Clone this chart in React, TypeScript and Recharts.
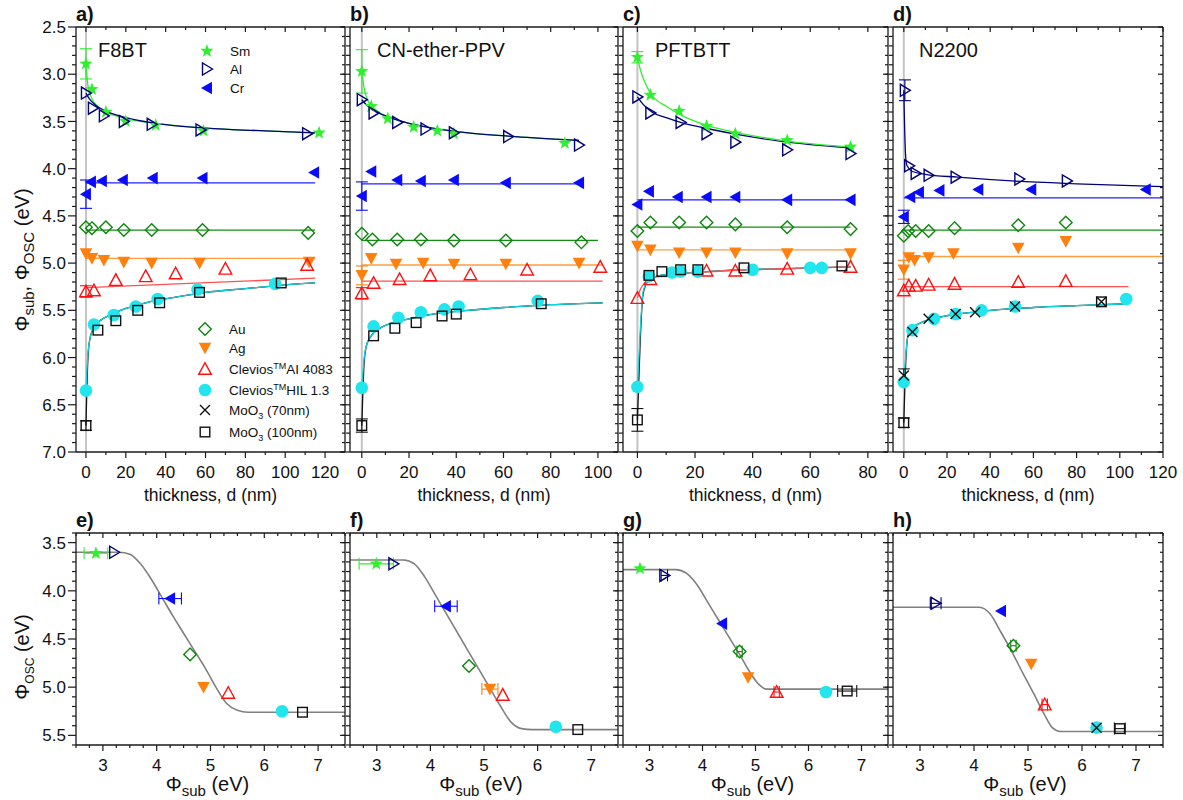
import {
  ComposedChart,
  Line,
  Scatter,
  XAxis,
  YAxis,
  ErrorBar,
  ReferenceLine,
} from "recharts";

const FONT = '"Liberation Sans", Arial, Helvetica, sans-serif';

type Pt = { x: number; y: number; e?: number };
type Kind = "sm" | "al" | "cr" | "au" | "ag" | "ai" | "hil" | "x70" | "sq";

// ---------- panel a) F8BT ----------
const aSm: Pt[] = [
  { x: 0, y: 2.89, e: 0.16 }, { x: 3, y: 3.16 }, { x: 10, y: 3.4 }, { x: 20, y: 3.5 },
  { x: 35, y: 3.54 }, { x: 59, y: 3.6 }, { x: 117, y: 3.62 },
];
const aAl: Pt[] = [
  { x: 0, y: 3.2 }, { x: 3.5, y: 3.36 }, { x: 9, y: 3.44 }, { x: 19, y: 3.5 },
  { x: 33, y: 3.53 }, { x: 57.5, y: 3.59 }, { x: 111, y: 3.63 },
];
const aCr: Pt[] = [
  { x: 0, y: 4.27, e: 0.15 }, { x: 2.5, y: 4.14 }, { x: 8, y: 4.13 }, { x: 18.5, y: 4.12 },
  { x: 33.5, y: 4.1 }, { x: 58.5, y: 4.1 }, { x: 114.5, y: 4.04 },
];
const aAu: Pt[] = [
  { x: 0, y: 4.62 }, { x: 3, y: 4.63 }, { x: 10, y: 4.62 }, { x: 19, y: 4.65 },
  { x: 33, y: 4.65 }, { x: 58.5, y: 4.65 }, { x: 111.5, y: 4.68 },
];
const aAg: Pt[] = [
  { x: 0, y: 4.9 }, { x: 3, y: 4.95 }, { x: 9, y: 4.97 }, { x: 19, y: 4.99 },
  { x: 33, y: 5.0 }, { x: 57, y: 5.0 }, { x: 112, y: 4.99 },
];
const aAi: Pt[] = [
  { x: 0, y: 5.3, e: 0.06 }, { x: 4, y: 5.29 }, { x: 15, y: 5.18 }, { x: 30, y: 5.14 },
  { x: 45, y: 5.11 }, { x: 70, y: 5.06 }, { x: 111, y: 5.02 },
];
const aHil: Pt[] = [
  { x: 0, y: 6.35 }, { x: 4, y: 5.65 }, { x: 14, y: 5.55 }, { x: 25, y: 5.46 },
  { x: 36, y: 5.38 }, { x: 56, y: 5.28 }, { x: 95, y: 5.22 },
];
const aSq: Pt[] = [
  { x: 0, y: 6.72, e: 0.05 }, { x: 6, y: 5.71 }, { x: 15, y: 5.61 }, { x: 26, y: 5.5 },
  { x: 37, y: 5.42 }, { x: 57, y: 5.31 }, { x: 98, y: 5.21 },
];
const aSmFit: Pt[] = [
  { x: 0, y: 2.89 }, { x: 1, y: 3.12 }, { x: 3, y: 3.26 }, { x: 6, y: 3.34 }, { x: 10, y: 3.4 },
  { x: 20, y: 3.47 }, { x: 35, y: 3.52 }, { x: 60, y: 3.57 }, { x: 90, y: 3.6 }, { x: 115, y: 3.62 },
];
const aAlFit: Pt[] = [
  { x: 0, y: 3.2 }, { x: 2, y: 3.27 }, { x: 5, y: 3.33 }, { x: 10, y: 3.39 }, { x: 20, y: 3.46 },
  { x: 35, y: 3.52 }, { x: 60, y: 3.57 }, { x: 90, y: 3.6 }, { x: 115, y: 3.62 },
];
const aCrFit: Pt[] = [{ x: 0, y: 4.15 }, { x: 115, y: 4.15 }];
const aAuFit: Pt[] = [{ x: 0, y: 4.65 }, { x: 115, y: 4.65 }];
const aAgFit: Pt[] = [{ x: 0, y: 4.95 }, { x: 115, y: 4.95 }];
const aAiFit: Pt[] = [{ x: 0, y: 5.26 }, { x: 115, y: 5.16 }];
const aSqFit: Pt[] = [
  { x: 0, y: 6.72 }, { x: 1, y: 6.0 }, { x: 2, y: 5.8 }, { x: 4, y: 5.68 }, { x: 7, y: 5.61 },
  { x: 12, y: 5.55 }, { x: 20, y: 5.48 }, { x: 30, y: 5.42 }, { x: 45, y: 5.36 }, { x: 60, y: 5.31 },
  { x: 80, y: 5.27 }, { x: 100, y: 5.23 }, { x: 115, y: 5.21 },
];
const aHilFit: Pt[] = [
  { x: 0, y: 6.35 }, { x: 1, y: 5.95 }, { x: 2, y: 5.8 }, { x: 4, y: 5.68 }, { x: 7, y: 5.61 },
  { x: 12, y: 5.55 }, { x: 20, y: 5.48 }, { x: 30, y: 5.42 }, { x: 45, y: 5.36 }, { x: 60, y: 5.31 },
  { x: 80, y: 5.27 }, { x: 100, y: 5.23 }, { x: 115, y: 5.21 },
];

// ---------- panel b) CN-ether-PPV ----------
const bSm: Pt[] = [
  { x: 0, y: 2.97, e: 0.23 }, { x: 4, y: 3.34 }, { x: 11, y: 3.47 }, { x: 22, y: 3.56 },
  { x: 32, y: 3.6 }, { x: 39, y: 3.63 }, { x: 86, y: 3.73 },
];
const bAl: Pt[] = [
  { x: 0, y: 3.27 }, { x: 5, y: 3.41 }, { x: 15, y: 3.51 }, { x: 27, y: 3.58 },
  { x: 39, y: 3.62 }, { x: 62, y: 3.66 }, { x: 92, y: 3.75 },
];
const bCr: Pt[] = [
  { x: 0, y: 4.29, e: 0.15 }, { x: 4, y: 4.03 }, { x: 15, y: 4.12 }, { x: 25, y: 4.13 },
  { x: 39, y: 4.12 }, { x: 61, y: 4.15 }, { x: 92, y: 4.15 },
];
const bAu: Pt[] = [
  { x: 0, y: 4.69 }, { x: 4.5, y: 4.75 }, { x: 15, y: 4.75 }, { x: 25, y: 4.75 },
  { x: 39, y: 4.76 }, { x: 61, y: 4.76 }, { x: 93, y: 4.78 },
];
const bAg: Pt[] = [
  { x: 0, y: 5.13, e: 0.1 }, { x: 4, y: 4.95 }, { x: 14.5, y: 5.01 }, { x: 26, y: 5.0 },
  { x: 39, y: 5.01 }, { x: 61, y: 5.01 }, { x: 92, y: 5.0 },
];
const bAi: Pt[] = [
  { x: 0, y: 5.32, e: 0.06 }, { x: 5, y: 5.21 }, { x: 16, y: 5.17 }, { x: 29, y: 5.13 },
  { x: 46, y: 5.12 }, { x: 70, y: 5.07 }, { x: 101, y: 5.04 },
];
const bHil: Pt[] = [
  { x: 0, y: 6.32 }, { x: 5, y: 5.67 }, { x: 15.5, y: 5.58 }, { x: 25, y: 5.52 },
  { x: 35, y: 5.49 }, { x: 41, y: 5.46 }, { x: 74.5, y: 5.4 },
];
const bSq: Pt[] = [
  { x: 0, y: 6.72, e: 0.07 }, { x: 5, y: 5.77 }, { x: 14, y: 5.69 }, { x: 23, y: 5.63 },
  { x: 34, y: 5.56 }, { x: 40, y: 5.54 }, { x: 76, y: 5.43 },
];
const bSmFit: Pt[] = [
  { x: 0, y: 2.97 }, { x: 1, y: 3.15 }, { x: 3, y: 3.3 }, { x: 6, y: 3.38 }, { x: 10, y: 3.44 },
  { x: 20, y: 3.52 }, { x: 30, y: 3.57 }, { x: 45, y: 3.62 }, { x: 65, y: 3.66 }, { x: 92, y: 3.7 },
];
const bAlFit: Pt[] = [
  { x: 0, y: 3.27 }, { x: 3, y: 3.35 }, { x: 6, y: 3.4 }, { x: 10, y: 3.44 }, { x: 20, y: 3.52 },
  { x: 30, y: 3.57 }, { x: 45, y: 3.62 }, { x: 65, y: 3.66 }, { x: 92, y: 3.7 },
];
const bCrFit: Pt[] = [{ x: 0, y: 4.16 }, { x: 92, y: 4.16 }];
const bAuFit: Pt[] = [{ x: 0, y: 4.76 }, { x: 100, y: 4.76 }];
const bAgFit: Pt[] = [{ x: 0, y: 5.02 }, { x: 102, y: 5.02 }];
const bAiFit: Pt[] = [{ x: 0, y: 5.19 }, { x: 102, y: 5.19 }];
const bSqFit: Pt[] = [
  { x: 0, y: 6.72 }, { x: 1, y: 6.05 }, { x: 2, y: 5.87 }, { x: 4, y: 5.77 }, { x: 7, y: 5.7 },
  { x: 12, y: 5.64 }, { x: 20, y: 5.59 }, { x: 30, y: 5.54 }, { x: 45, y: 5.5 }, { x: 60, y: 5.47 },
  { x: 80, y: 5.44 }, { x: 102, y: 5.42 },
];
const bHilFit: Pt[] = [
  { x: 0, y: 6.32 }, { x: 1, y: 6.0 }, { x: 2, y: 5.87 }, { x: 4, y: 5.77 }, { x: 7, y: 5.7 },
  { x: 12, y: 5.64 }, { x: 20, y: 5.59 }, { x: 30, y: 5.54 }, { x: 45, y: 5.5 }, { x: 60, y: 5.47 },
  { x: 80, y: 5.44 }, { x: 102, y: 5.42 },
];

// ---------- panel c) PFTBTT ----------
const cSm: Pt[] = [
  { x: 0, y: 2.82, e: 0.06 }, { x: 4.5, y: 3.22 }, { x: 14.5, y: 3.39 }, { x: 24, y: 3.55 },
  { x: 34, y: 3.63 }, { x: 52, y: 3.7 }, { x: 74, y: 3.77 },
];
const cAl: Pt[] = [
  { x: 0, y: 3.24 }, { x: 4.5, y: 3.41 }, { x: 15, y: 3.51 }, { x: 24, y: 3.63 },
  { x: 34, y: 3.72 }, { x: 52, y: 3.8 }, { x: 74, y: 3.84 },
];
const cCr: Pt[] = [
  { x: 0, y: 4.38 }, { x: 4, y: 4.24 }, { x: 14, y: 4.3 }, { x: 24, y: 4.3 },
  { x: 34, y: 4.3 }, { x: 52, y: 4.33 }, { x: 74, y: 4.33 },
];
const cAu: Pt[] = [
  { x: 0, y: 4.66 }, { x: 4.5, y: 4.57 }, { x: 14.5, y: 4.57 }, { x: 24, y: 4.57 },
  { x: 34, y: 4.59 }, { x: 52, y: 4.62 }, { x: 74, y: 4.64 },
];
const cAg: Pt[] = [
  { x: 0, y: 4.82 }, { x: 4.5, y: 4.86 }, { x: 14.5, y: 4.89 }, { x: 24, y: 4.89 },
  { x: 34, y: 4.89 }, { x: 52, y: 4.9 }, { x: 74, y: 4.9 },
];
const cAi: Pt[] = [
  { x: 0, y: 5.37 }, { x: 4.5, y: 5.17 }, { x: 24, y: 5.08 }, { x: 34, y: 5.08 },
  { x: 52, y: 5.06 }, { x: 74, y: 5.04 },
];
const cHil: Pt[] = [
  { x: 0, y: 6.31 }, { x: 4, y: 5.14 }, { x: 12, y: 5.1 }, { x: 15, y: 5.09 },
  { x: 21, y: 5.09 }, { x: 40, y: 5.07 }, { x: 60, y: 5.05 }, { x: 64, y: 5.05 },
];
const cSq: Pt[] = [
  { x: 0, y: 6.66, e: 0.12 }, { x: 4, y: 5.13 }, { x: 8.5, y: 5.09 }, { x: 15, y: 5.07 },
  { x: 21, y: 5.07 }, { x: 37, y: 5.05 }, { x: 71, y: 5.03 },
];
const cSmFit: Pt[] = [
  { x: 0, y: 2.82 }, { x: 1, y: 2.95 }, { x: 2.5, y: 3.08 }, { x: 5, y: 3.22 }, { x: 10, y: 3.34 },
  { x: 15, y: 3.43 }, { x: 25, y: 3.55 }, { x: 35, y: 3.62 }, { x: 50, y: 3.7 }, { x: 74, y: 3.77 },
];
const cAlFit: Pt[] = [
  { x: 0, y: 3.24 }, { x: 2, y: 3.32 }, { x: 5, y: 3.4 }, { x: 10, y: 3.46 }, { x: 15, y: 3.51 },
  { x: 25, y: 3.58 }, { x: 35, y: 3.64 }, { x: 50, y: 3.71 }, { x: 74, y: 3.78 },
];
const cCrFit: Pt[] = [{ x: 0, y: 4.33 }, { x: 74, y: 4.33 }];
const cAuFit: Pt[] = [{ x: 0, y: 4.62 }, { x: 74, y: 4.62 }];
const cAgFit: Pt[] = [{ x: 0, y: 4.86 }, { x: 74, y: 4.86 }];
const cAiFit: Pt[] = [
  { x: 0, y: 5.37 }, { x: 1, y: 5.28 }, { x: 2.5, y: 5.21 }, { x: 5, y: 5.16 }, { x: 10, y: 5.13 },
  { x: 20, y: 5.1 }, { x: 40, y: 5.07 }, { x: 74, y: 5.04 },
];
const cSqFit: Pt[] = [
  { x: 0, y: 6.66 }, { x: 1, y: 5.8 }, { x: 2, y: 5.32 }, { x: 4, y: 5.18 }, { x: 8, y: 5.13 },
  { x: 15, y: 5.11 }, { x: 30, y: 5.08 }, { x: 50, y: 5.06 }, { x: 74, y: 5.04 },
];
const cHilFit: Pt[] = [
  { x: 0, y: 6.31 }, { x: 1, y: 5.7 }, { x: 2, y: 5.3 }, { x: 4, y: 5.18 }, { x: 8, y: 5.13 },
  { x: 15, y: 5.11 }, { x: 30, y: 5.08 }, { x: 50, y: 5.06 }, { x: 74, y: 5.04 },
];

// ---------- panel d) N2200 ----------
const dAl: Pt[] = [
  { x: 0.5, y: 3.17, e: 0.11 }, { x: 2.5, y: 3.97 }, { x: 5.5, y: 4.05 }, { x: 11.5, y: 4.07 },
  { x: 24, y: 4.09 }, { x: 53.5, y: 4.11 }, { x: 75.5, y: 4.13 },
];
const dCr: Pt[] = [
  { x: 0, y: 4.51, e: 0.07 }, { x: 3, y: 4.3 }, { x: 7, y: 4.25 }, { x: 16.5, y: 4.23 },
  { x: 34.5, y: 4.22 }, { x: 59, y: 4.22 }, { x: 112, y: 4.22 },
];
const dAu: Pt[] = [
  { x: 0, y: 4.71 }, { x: 2, y: 4.66 }, { x: 5.5, y: 4.66 }, { x: 11.5, y: 4.66 },
  { x: 23.5, y: 4.63 }, { x: 53, y: 4.6 }, { x: 75, y: 4.57 },
];
const dAg: Pt[] = [
  { x: 0, y: 5.07, e: 0.1 }, { x: 2.3, y: 4.94 }, { x: 5, y: 4.97 }, { x: 11.5, y: 4.94 },
  { x: 23, y: 4.9 }, { x: 53, y: 4.84 }, { x: 75, y: 4.77 },
];
const dAi: Pt[] = [
  { x: 0, y: 5.29 }, { x: 2.3, y: 5.24 }, { x: 5.5, y: 5.24 }, { x: 11.5, y: 5.23 },
  { x: 23.5, y: 5.22 }, { x: 53, y: 5.2 }, { x: 75, y: 5.19 },
];
const dHil: Pt[] = [
  { x: 0, y: 6.26 }, { x: 4, y: 5.71 }, { x: 14, y: 5.59 }, { x: 24, y: 5.54 },
  { x: 36, y: 5.5 }, { x: 51.5, y: 5.46 }, { x: 103, y: 5.38 },
];
const dX70: Pt[] = [
  { x: 0, y: 6.19, e: 0.07 }, { x: 4, y: 5.73 }, { x: 11.5, y: 5.59 }, { x: 24, y: 5.54 },
  { x: 33, y: 5.52 }, { x: 51.5, y: 5.46 }, { x: 91.5, y: 5.41 },
];
const dSq: Pt[] = [{ x: 0, y: 6.69, e: 0.05 }, { x: 91.5, y: 5.41 }];
const dAlFit: Pt[] = [
  { x: 0, y: 3.17 }, { x: 0.8, y: 3.85 }, { x: 1.5, y: 3.97 }, { x: 4, y: 4.03 }, { x: 10, y: 4.06 },
  { x: 25, y: 4.09 }, { x: 50, y: 4.13 }, { x: 80, y: 4.16 }, { x: 120, y: 4.19 },
];
const dCrFit: Pt[] = [{ x: 0, y: 4.31 }, { x: 120, y: 4.31 }];
const dAuFit: Pt[] = [{ x: 0, y: 4.65 }, { x: 120, y: 4.65 }];
const dAgFit: Pt[] = [{ x: 0, y: 4.93 }, { x: 120, y: 4.93 }];
const dAiFit: Pt[] = [{ x: 0, y: 5.25 }, { x: 104, y: 5.25 }];
const dSqFit: Pt[] = [
  { x: 0, y: 6.69 }, { x: 1, y: 6.0 }, { x: 2, y: 5.76 }, { x: 4, y: 5.69 }, { x: 8, y: 5.63 },
  { x: 15, y: 5.58 }, { x: 25, y: 5.54 }, { x: 40, y: 5.5 }, { x: 60, y: 5.47 }, { x: 80, y: 5.45 },
  { x: 104, y: 5.43 },
];
const dHilFit: Pt[] = [
  { x: 0, y: 6.26 }, { x: 1, y: 5.95 }, { x: 2, y: 5.76 }, { x: 4, y: 5.69 }, { x: 8, y: 5.63 },
  { x: 15, y: 5.58 }, { x: 25, y: 5.54 }, { x: 40, y: 5.5 }, { x: 60, y: 5.47 }, { x: 80, y: 5.45 },
  { x: 104, y: 5.43 },
];

// ---------- bottom row: Phi_osc vs Phi_sub (e = x error) ----------
const eSm: Pt[] = [{ x: 2.87, y: 3.61, e: 0.22 }];
const eAl: Pt[] = [{ x: 3.21, y: 3.6 }];
const eCr: Pt[] = [{ x: 4.25, y: 4.08, e: 0.21 }];
const eAu: Pt[] = [{ x: 4.62, y: 4.66 }];
const eAg: Pt[] = [{ x: 4.87, y: 5.0 }];
const eAi: Pt[] = [{ x: 5.33, y: 5.06 }];
const eHil: Pt[] = [{ x: 6.33, y: 5.25 }];
const eSq: Pt[] = [{ x: 6.71, y: 5.26 }];
const eFit: Pt[] = [
  { x: 2.5, y: 3.6 }, { x: 3.3, y: 3.6 }, { x: 3.5, y: 3.62 }, { x: 3.7, y: 3.72 }, { x: 3.9, y: 3.88 },
  { x: 4.1, y: 4.07 }, { x: 4.3, y: 4.26 }, { x: 4.5, y: 4.44 }, { x: 4.7, y: 4.62 }, { x: 4.9, y: 4.8 },
  { x: 5.1, y: 5.0 }, { x: 5.3, y: 5.17 }, { x: 5.5, y: 5.24 }, { x: 5.7, y: 5.26 }, { x: 7.5, y: 5.26 },
];

const fSm: Pt[] = [{ x: 2.99, y: 3.72, e: 0.32 }];
const fAl: Pt[] = [{ x: 3.31, y: 3.72 }];
const fCr: Pt[] = [{ x: 4.29, y: 4.16, e: 0.21 }];
const fAu: Pt[] = [{ x: 4.72, y: 4.78 }];
const fAg: Pt[] = [{ x: 5.11, y: 5.02, e: 0.15 }];
const fAi: Pt[] = [{ x: 5.35, y: 5.08 }];
const fHil: Pt[] = [{ x: 6.34, y: 5.41 }];
const fSq: Pt[] = [{ x: 6.75, y: 5.44 }];
const fFit: Pt[] = [
  { x: 2.5, y: 3.68 }, { x: 3.5, y: 3.68 }, { x: 3.7, y: 3.72 }, { x: 3.9, y: 3.86 }, { x: 4.1, y: 4.05 },
  { x: 4.3, y: 4.24 }, { x: 4.5, y: 4.43 }, { x: 4.7, y: 4.62 }, { x: 4.9, y: 4.81 }, { x: 5.1, y: 5.0 },
  { x: 5.3, y: 5.19 }, { x: 5.5, y: 5.36 }, { x: 5.7, y: 5.43 }, { x: 5.9, y: 5.44 }, { x: 7.5, y: 5.44 },
];

const gSm: Pt[] = [{ x: 2.82, y: 3.77 }];
const gAl: Pt[] = [{ x: 3.28, y: 3.84, e: 0.06 }];
const gCr: Pt[] = [{ x: 4.37, y: 4.34 }];
const gAu: Pt[] = [{ x: 4.7, y: 4.63, e: 0.05 }];
const gAg: Pt[] = [{ x: 4.86, y: 4.9 }];
const gAi: Pt[] = [{ x: 5.4, y: 5.05, e: 0.05 }];
const gHil: Pt[] = [{ x: 6.33, y: 5.05 }];
const gSq: Pt[] = [{ x: 6.73, y: 5.04, e: 0.18 }];
const gFit: Pt[] = [
  { x: 2.5, y: 3.78 }, { x: 3.5, y: 3.78 }, { x: 3.7, y: 3.82 }, { x: 3.9, y: 3.94 }, { x: 4.1, y: 4.12 },
  { x: 4.3, y: 4.3 }, { x: 4.5, y: 4.48 }, { x: 4.7, y: 4.66 }, { x: 4.9, y: 4.85 }, { x: 5.0, y: 4.93 },
  { x: 5.1, y: 4.99 }, { x: 5.2, y: 5.02 }, { x: 7.5, y: 5.02 },
];

const hAl: Pt[] = [{ x: 3.29, y: 4.13, e: 0.1 }];
const hCr: Pt[] = [{ x: 4.5, y: 4.21 }];
const hAu: Pt[] = [{ x: 4.73, y: 4.57, e: 0.05 }];
const hAg: Pt[] = [{ x: 5.06, y: 4.76 }];
const hAi: Pt[] = [{ x: 5.31, y: 5.18, e: 0.05 }];
const hHil: Pt[] = [{ x: 6.27, y: 5.42 }];
const hX70: Pt[] = [{ x: 6.27, y: 5.42 }];
const hSq: Pt[] = [{ x: 6.7, y: 5.43, e: 0.1 }];
const hFit: Pt[] = [
  { x: 2.5, y: 4.17 }, { x: 4.1, y: 4.17 }, { x: 4.3, y: 4.24 }, { x: 4.5, y: 4.43 }, { x: 4.7, y: 4.63 },
  { x: 4.9, y: 4.85 }, { x: 5.1, y: 5.06 }, { x: 5.3, y: 5.28 }, { x: 5.45, y: 5.42 }, { x: 5.6, y: 5.46 },
  { x: 7.5, y: 5.46 },
];

// ---------- ticks ----------
const steps = (a: number, b: number, s: number) => {
  const out: number[] = [];
  for (let v = a; v <= b + 1e-9; v += s) out.push(Math.round(v * 1000) / 1000);
  return out;
};
const topYMajor = [2.5, 3.0, 3.5, 4.0, 4.5, 5.0, 5.5, 6.0, 6.5, 7.0];
const topYTicks = steps(2.5, 7.0, 0.1);
const xMajor120 = [0, 20, 40, 60, 80, 100, 120];
const xMajor100 = [0, 20, 40, 60, 80, 100];
const xMajor80 = [0, 20, 40, 60, 80];
const botXMajor = [3, 4, 5, 6, 7];
const botXTicks = steps(2.5, 7.5, 0.25);
const botYMajor = [3.5, 4.0, 4.5, 5.0, 5.5];
const botYTicks = steps(3.4, 5.6, 0.1);

// ---------- styles ----------
const COLOR: Record<Kind, string> = {
  sm: "#2ff02f", al: "#00007a", cr: "#0a0aff", au: "#0b870b", ag: "#ff800d",
  ai: "#ff1010", hil: "#22e6ee", x70: "#111111", sq: "#111111",
};
const FIT: Record<Kind, string> = {
  sm: "#2ff02f", al: "#00007a", cr: "#2020ff", au: "#148c14", ag: "#ff9b40",
  ai: "#ff5050", hil: "#10d4dc", x70: "#111111", sq: "#111111",
};

const starPts = (cx: number, cy: number, R: number, r: number) => {
  const p: string[] = [];
  for (let i = 0; i < 10; i++) {
    const a = -Math.PI / 2 + (i * Math.PI) / 5;
    const rr = i % 2 === 0 ? R : r;
    p.push(`${cx + rr * Math.cos(a)},${cy + rr * Math.sin(a)}`);
  }
  return p.join(" ");
};

function Marker({ kind, cx, cy }: { kind: Kind; cx: number; cy: number }) {
  const c = COLOR[kind];
  const sw = 1.4;
  switch (kind) {
    case "sm":
      return <polygon points={starPts(cx, cy, 7, 2.9)} fill={c} />;
    case "al":
      return <polygon points={`${cx + 5.5},${cy} ${cx - 4.5},${cy - 6} ${cx - 4.5},${cy + 6}`} fill="none" stroke={c} strokeWidth={sw} />;
    case "cr":
      return <polygon points={`${cx - 6},${cy} ${cx + 5},${cy - 6.3} ${cx + 5},${cy + 6.3}`} fill={c} />;
    case "au":
      return <polygon points={`${cx},${cy - 6.3} ${cx + 6.3},${cy} ${cx},${cy + 6.3} ${cx - 6.3},${cy}`} fill="none" stroke={c} strokeWidth={sw} />;
    case "ag":
      return <polygon points={`${cx - 6.3},${cy - 5.3} ${cx + 6.3},${cy - 5.3} ${cx},${cy + 6.3}`} fill={c} />;
    case "ai":
      return <polygon points={`${cx - 6.3},${cy + 5.3} ${cx + 6.3},${cy + 5.3} ${cx},${cy - 6.3}`} fill="none" stroke={c} strokeWidth={sw} />;
    case "hil":
      return <circle cx={cx} cy={cy} r={6.3} fill={c} />;
    case "x70":
      return <path d={`M${cx - 5},${cy - 5}L${cx + 5},${cy + 5}M${cx - 5},${cy + 5}L${cx + 5},${cy - 5}`} stroke={c} strokeWidth={sw} fill="none" />;
    default:
      return <rect x={cx - 4.8} y={cy - 4.8} width={9.6} height={9.6} fill="none" stroke={c} strokeWidth={sw} />;
  }
}

type Side = "left" | "right" | "top" | "bottom";
function makeTick(side: Side, majors: number[], show: boolean, digits: number) {
  return (p: any) => {
    const v: number = p.payload.value;
    const major = majors.some((m) => Math.abs(m - v) < 1e-6);
    const L = side === "left" ? (major ? 8 : 4) : side === "bottom" ? (major ? 6 : 3) : major ? 5 : 3;
    const { x, y } = p;
    let line;
    let label = null;
    if (side === "left") {
      line = <line x1={x} y1={y} x2={x - L} y2={y} />;
      if (show && major)
        label = <text x={x - 10} y={y} dy="0.36em" textAnchor="end">{v.toFixed(digits)}</text>;
    } else if (side === "right") {
      line = <line x1={x} y1={y} x2={x - L} y2={y} />;
    } else if (side === "top") {
      line = <line x1={x} y1={y} x2={x} y2={y + L} />;
    } else {
      line = <line x1={x} y1={y} x2={x} y2={y + L} />;
      if (show && major)
        label = <text x={x} y={y + 26} textAnchor="middle">{v.toFixed(digits)}</text>;
    }
    return (
      <g>
        <g stroke="#1a1a1a" strokeWidth={1.2}>{line}</g>
        {label && (
          <g fill="#111" stroke="none" fontSize={17} fontFamily={FONT}>{label}</g>
        )}
      </g>
    );
  };
}

const PAD = { l: 60, r: 18, t: 12, b: 40 };
const AXIS = { stroke: "#1a1a1a", strokeWidth: 1.3 };

type PanelProps = {
  left: number; right: number; top: number; bottom: number;
  xDomain: [number, number]; xTicks: number[]; xMajor: number[];
  yDomain: [number, number]; yTicks: number[]; yMajor: number[];
  yLabels: boolean; errDir: "x" | "y"; zero: boolean;
  series: [Kind, Pt[]][]; fits: [string, Pt[]][]; fitWidth: number;
};

function Panel(p: PanelProps) {
  const w = p.right - p.left + PAD.l + PAD.r;
  const h = p.bottom - p.top + PAD.t + PAD.b;
  return (
    <div style={{ position: "absolute", left: p.left - PAD.l, top: p.top - PAD.t }}>
      <ComposedChart width={w} height={h} margin={{ top: 0, right: 0, bottom: 0, left: 0 }}>
        <XAxis xAxisId={0} type="number" dataKey="x" domain={p.xDomain} ticks={p.xTicks} interval={0}
          allowDataOverflow height={PAD.b} tickLine={false} tickSize={0} tickMargin={0} axisLine={AXIS}
          tick={makeTick("bottom", p.xMajor, true, 0)} />
        <XAxis xAxisId="t" orientation="top" type="number" dataKey="x" domain={p.xDomain} ticks={p.xTicks}
          interval={0} allowDataOverflow height={PAD.t} tickLine={false} tickSize={0} tickMargin={0}
          axisLine={AXIS} tick={makeTick("top", p.xMajor, false, 0)} />
        <YAxis yAxisId={0} type="number" domain={p.yDomain} reversed ticks={p.yTicks} interval={0}
          allowDataOverflow width={PAD.l} tickLine={false} tickSize={0} tickMargin={0} axisLine={AXIS}
          tick={makeTick("left", p.yMajor, p.yLabels, 1)} />
        <YAxis yAxisId="r" orientation="right" type="number" domain={p.yDomain} reversed ticks={p.yTicks}
          interval={0} allowDataOverflow width={PAD.r} tickLine={false} tickSize={0} tickMargin={0}
          axisLine={AXIS} tick={makeTick("right", p.yMajor, false, 1)} />
        {p.zero && <ReferenceLine x={0} stroke="#c4c4c4" strokeWidth={2} />}
        {p.fits.map(([col, d], i) => (
          <Line key={"f" + i} data={d} dataKey="y" type="monotone" stroke={col} strokeWidth={p.fitWidth}
            dot={false} activeDot={false} isAnimationActive={false} />
        ))}
        {p.series.map(([kind, d], i) => (
          <Scatter key={"s" + i} data={d} dataKey="y" isAnimationActive={false}
            shape={(sp: any) => <Marker kind={kind} cx={sp.cx} cy={sp.cy} />}>
            <ErrorBar dataKey="e" direction={p.errDir} width={6} stroke={COLOR[kind]} strokeWidth={1.1} />
          </Scatter>
        ))}
      </ComposedChart>
    </div>
  );
}

const COLS: [number, number][] = [[76, 345], [350, 618], [623, 888], [893, 1163]];
const TOP_Y: [number, number] = [27, 452];
const BOT_Y: [number, number] = [533, 745];

const topPanels = [
  {
    xDomain: [-5, 130] as [number, number], xMajor: xMajor120, xTicks: steps(0, 120, 10),
    series: [["sm", aSm], ["al", aAl], ["cr", aCr], ["au", aAu], ["ag", aAg], ["ai", aAi], ["hil", aHil], ["sq", aSq]] as [Kind, Pt[]][],
    fits: [[FIT.cr, aCrFit], [FIT.au, aAuFit], [FIT.ag, aAgFit], [FIT.ai, aAiFit], [FIT.sm, aSmFit], [FIT.al, aAlFit], [FIT.sq, aSqFit], [FIT.hil, aHilFit]] as [string, Pt[]][],
  },
  {
    xDomain: [-5, 108.5] as [number, number], xMajor: xMajor100, xTicks: steps(0, 100, 10),
    series: [["sm", bSm], ["al", bAl], ["cr", bCr], ["au", bAu], ["ag", bAg], ["ai", bAi], ["hil", bHil], ["sq", bSq]] as [Kind, Pt[]][],
    fits: [[FIT.cr, bCrFit], [FIT.au, bAuFit], [FIT.ag, bAgFit], [FIT.ai, bAiFit], [FIT.sm, bSmFit], [FIT.al, bAlFit], [FIT.sq, bSqFit], [FIT.hil, bHilFit]] as [string, Pt[]][],
  },
  {
    xDomain: [-5, 87] as [number, number], xMajor: xMajor80, xTicks: steps(0, 80, 10),
    series: [["sm", cSm], ["al", cAl], ["cr", cCr], ["au", cAu], ["ag", cAg], ["ai", cAi], ["hil", cHil], ["sq", cSq]] as [Kind, Pt[]][],
    fits: [[FIT.cr, cCrFit], [FIT.au, cAuFit], [FIT.ag, cAgFit], [FIT.al, cAlFit], [FIT.sm, cSmFit], [FIT.sq, cSqFit], [FIT.hil, cHilFit], [FIT.ai, cAiFit]] as [string, Pt[]][],
  },
  {
    xDomain: [-5, 120] as [number, number], xMajor: xMajor120, xTicks: steps(0, 120, 10),
    series: [["al", dAl], ["cr", dCr], ["au", dAu], ["ag", dAg], ["ai", dAi], ["hil", dHil], ["x70", dX70], ["sq", dSq]] as [Kind, Pt[]][],
    fits: [[FIT.cr, dCrFit], [FIT.au, dAuFit], [FIT.ag, dAgFit], [FIT.ai, dAiFit], [FIT.al, dAlFit], [FIT.sq, dSqFit], [FIT.hil, dHilFit]] as [string, Pt[]][],
  },
];

const GRAY = "#808080";
const botPanels = [
  { series: [["sm", eSm], ["al", eAl], ["cr", eCr], ["au", eAu], ["ag", eAg], ["ai", eAi], ["hil", eHil], ["sq", eSq]] as [Kind, Pt[]][], fit: eFit },
  { series: [["sm", fSm], ["al", fAl], ["cr", fCr], ["au", fAu], ["ag", fAg], ["ai", fAi], ["hil", fHil], ["sq", fSq]] as [Kind, Pt[]][], fit: fFit },
  { series: [["sm", gSm], ["al", gAl], ["cr", gCr], ["au", gAu], ["ag", gAg], ["ai", gAi], ["hil", gHil], ["sq", gSq]] as [Kind, Pt[]][], fit: gFit },
  { series: [["al", hAl], ["cr", hCr], ["au", hAu], ["ag", hAg], ["ai", hAi], ["hil", hHil], ["x70", hX70], ["sq", hSq]] as [Kind, Pt[]][], fit: hFit },
];

const TITLES = ["F8BT", "CN-ether-PPV", "PFTBTT", "N2200"];
const TITLE_X = [98, 377, 655, 919];
const TOP_LETTERS = ["a)", "b)", "c)", "d)"];
const BOT_LETTERS = ["e)", "f)", "g)", "h)"];

const legendTop: [Kind, string][] = [["sm", "Sm"], ["al", "Al"], ["cr", "Cr"]];
const legendTopY = [51, 69, 88];
const legendBotY = [329, 348, 369, 390, 410, 432];

export default function App() {
  return (
    <div style={{ position: "absolute", left: 0, top: 0, width: 1183, height: 800, background: "#fff", fontFamily: FONT, overflow: "hidden" }}>
      {topPanels.map((tp, i) => (
        <Panel key={"t" + i} left={COLS[i][0]} right={COLS[i][1]} top={TOP_Y[0]} bottom={TOP_Y[1]}
          xDomain={tp.xDomain} xTicks={tp.xTicks} xMajor={tp.xMajor}
          yDomain={[2.5, 7.0]} yTicks={topYTicks} yMajor={topYMajor} yLabels={i === 0}
          errDir="y" zero series={tp.series} fits={tp.fits} fitWidth={1.3} />
      ))}
      {botPanels.map((bp, i) => (
        <Panel key={"b" + i} left={COLS[i][0]} right={COLS[i][1]} top={BOT_Y[0]} bottom={BOT_Y[1]}
          xDomain={[2.5, 7.5]} xTicks={botXTicks} xMajor={botXMajor}
          yDomain={[3.4, 5.6]} yTicks={botYTicks} yMajor={botYMajor} yLabels={i === 0}
          errDir="x" zero={false} series={bp.series} fits={[[GRAY, bp.fit]]} fitWidth={1.6} />
      ))}
      <svg width={1183} height={800} style={{ position: "absolute", left: 0, top: 0, pointerEvents: "none" }}
        fontFamily={FONT} fill="#111">
        {COLS.map(([l, r], i) => (
          <g key={"lab" + i}>
            <text x={l} y={21} fontSize={20} fontWeight="bold">{TOP_LETTERS[i]}</text>
            <text x={l} y={527} fontSize={20} fontWeight="bold">{BOT_LETTERS[i]}</text>
            <text x={TITLE_X[i]} y={57} fontSize={20}>{TITLES[i]}</text>
            <text x={(l + r) / 2} y={501} fontSize={17.5} textAnchor="middle">thickness, d (nm)</text>
            <text x={(l + r) / 2 - 3} y={791} fontSize={20} textAnchor="middle">
              Φ<tspan dy={5} fontSize={15}>sub</tspan><tspan dy={-5}> (eV)</tspan>
            </text>
          </g>
        ))}
        <text transform="translate(29,260) rotate(-90)" fontSize={20} textAnchor="middle">
          Φ<tspan dy={5} fontSize={15}>sub</tspan><tspan dy={-5}>, Φ</tspan>
          <tspan dy={5} fontSize={15}>OSC</tspan><tspan dy={-5}> (eV)</tspan>
        </text>
        <text transform="translate(29,657) rotate(-90)" fontSize={20} textAnchor="middle">
          Φ<tspan dy={5} fontSize={12}>OSC</tspan><tspan dy={-5}> (eV)</tspan>
        </text>
        {legendTop.map(([k, t], i) => (
          <g key={"lt" + i}>
            <Marker kind={k} cx={207} cy={legendTopY[i]} />
            <text x={230} y={legendTopY[i] + 5} fontSize={13.5}>{t}</text>
          </g>
        ))}
        <g fontSize={13.5}>
          <Marker kind="au" cx={205} cy={legendBotY[0]} />
          <text x={229} y={legendBotY[0] + 5}>Au</text>
          <Marker kind="ag" cx={205} cy={legendBotY[1]} />
          <text x={229} y={legendBotY[1] + 5}>Ag</text>
          <Marker kind="ai" cx={205} cy={legendBotY[2]} />
          <text x={229} y={legendBotY[2] + 5}>Clevios<tspan dy={-5} fontSize={9}>TM</tspan><tspan dy={5}>AI 4083</tspan></text>
          <Marker kind="hil" cx={205} cy={legendBotY[3]} />
          <text x={229} y={legendBotY[3] + 5}>Clevios<tspan dy={-5} fontSize={9}>TM</tspan><tspan dy={5}>HIL 1.3</tspan></text>
          <Marker kind="x70" cx={205} cy={legendBotY[4]} />
          <text x={229} y={legendBotY[4] + 5}>MoO<tspan dy={4} fontSize={9}>3</tspan><tspan dy={-4}> (70nm)</tspan></text>
          <Marker kind="sq" cx={205} cy={legendBotY[5]} />
          <text x={229} y={legendBotY[5] + 5}>MoO<tspan dy={4} fontSize={9}>3</tspan><tspan dy={-4}> (100nm)</tspan></text>
        </g>
      </svg>
    </div>
  );
}
